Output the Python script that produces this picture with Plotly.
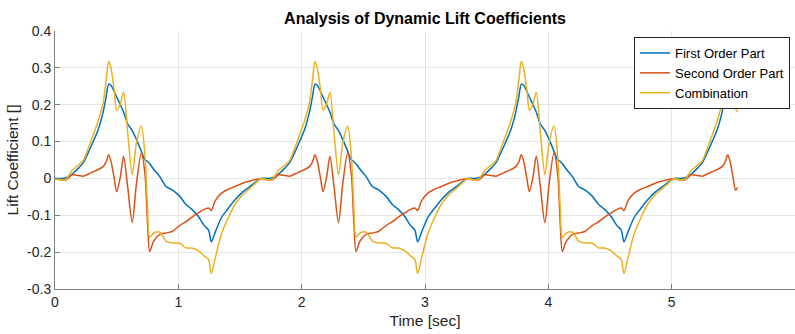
import plotly.graph_objects as go

# Time samples [sec]
time_sec = [
    0.0, 0.05, 0.09, 0.14, 0.19, 0.23, 0.27, 0.31, 0.35, 0.39, 0.415, 0.435, 0.455, 0.48, 0.5, 0.53, 0.556, 0.59, 0.626, 0.66, 0.7,
    0.73, 0.75, 0.768, 0.8, 0.85, 0.9, 0.95, 1.01, 1.06, 1.11, 1.16, 1.21, 1.245, 1.267, 1.3, 1.35, 1.4, 1.46, 1.52, 1.58, 1.63,
    1.673, 1.723, 1.763, 1.813, 1.863, 1.903, 1.943, 1.983, 2.023, 2.063, 2.088, 2.108, 2.128, 2.153, 2.173, 2.203, 2.229, 2.263, 2.299, 2.333, 2.373,
    2.403, 2.423, 2.441, 2.473, 2.523, 2.573, 2.623, 2.683, 2.733, 2.783, 2.833, 2.883, 2.918, 2.94, 2.973, 3.023, 3.073, 3.133, 3.193, 3.253, 3.303,
    3.346, 3.396, 3.436, 3.486, 3.536, 3.576, 3.616, 3.656, 3.696, 3.736, 3.761, 3.781, 3.801, 3.826, 3.846, 3.876, 3.902, 3.936, 3.972, 4.006, 4.046,
    4.076, 4.096, 4.114, 4.146, 4.196, 4.246, 4.296, 4.356, 4.406, 4.456, 4.506, 4.556, 4.591, 4.613, 4.646, 4.696, 4.746, 4.806, 4.866, 4.926, 4.976,
    5.019, 5.069, 5.109, 5.159, 5.209, 5.249, 5.289, 5.329, 5.369, 5.409, 5.434, 5.454, 5.474, 5.499, 5.519, 5.536,
]

first_order = [
    0.0, 0.0, 0.002, 0.012, 0.028, 0.043, 0.07, 0.1, 0.132, 0.18, 0.222, 0.256, 0.252, 0.236, 0.221, 0.2, 0.18, 0.147, 0.13, 0.106, 0.074,
    0.05, 0.046, 0.04, 0.025, 0.005, -0.022, -0.031, -0.048, -0.07, -0.084, -0.102, -0.128, -0.14, -0.172, -0.145, -0.106, -0.083, -0.058, -0.037, -0.022, -0.009,
    0.0, 0.0, 0.002, 0.012, 0.028, 0.043, 0.07, 0.1, 0.132, 0.18, 0.222, 0.256, 0.252, 0.236, 0.221, 0.2, 0.18, 0.147, 0.13, 0.106, 0.074,
    0.05, 0.046, 0.04, 0.025, 0.005, -0.022, -0.031, -0.048, -0.07, -0.084, -0.102, -0.128, -0.14, -0.172, -0.145, -0.106, -0.083, -0.058, -0.037, -0.022, -0.009,
    0.0, 0.0, 0.002, 0.012, 0.028, 0.043, 0.07, 0.1, 0.132, 0.18, 0.222, 0.256, 0.252, 0.236, 0.221, 0.2, 0.18, 0.147, 0.13, 0.106, 0.074,
    0.05, 0.046, 0.04, 0.025, 0.005, -0.022, -0.031, -0.048, -0.07, -0.084, -0.102, -0.128, -0.14, -0.172, -0.145, -0.106, -0.083, -0.058, -0.037, -0.022, -0.009,
    0.0, 0.0, 0.002, 0.012, 0.028, 0.043, 0.07, 0.1, 0.132, 0.18, 0.222, 0.256, 0.252, 0.236, 0.221, 0.204,
]

second_order = [
    0.0, -0.004, -0.004, 0.01, 0.008, 0.006, 0.012, 0.018, 0.024, 0.032, 0.045, 0.064, 0.045, 0.0, -0.036, 0.005, 0.06, -0.025, -0.12, -0.015, 0.07,
    0.01, -0.12, -0.198, -0.17, -0.152, -0.148, -0.144, -0.128, -0.118, -0.105, -0.094, -0.084, -0.08, -0.087, -0.06, -0.04, -0.03, -0.022, -0.013, -0.007, -0.003,
    0.0, -0.004, -0.004, 0.01, 0.008, 0.006, 0.012, 0.018, 0.024, 0.032, 0.045, 0.064, 0.045, 0.0, -0.036, 0.005, 0.06, -0.025, -0.12, -0.015, 0.07,
    0.01, -0.12, -0.198, -0.17, -0.152, -0.148, -0.144, -0.128, -0.118, -0.105, -0.094, -0.084, -0.08, -0.087, -0.06, -0.04, -0.03, -0.022, -0.013, -0.007, -0.003,
    0.0, -0.004, -0.004, 0.01, 0.008, 0.006, 0.012, 0.018, 0.024, 0.032, 0.045, 0.064, 0.045, 0.0, -0.036, 0.005, 0.06, -0.025, -0.12, -0.015, 0.07,
    0.01, -0.12, -0.198, -0.17, -0.152, -0.148, -0.144, -0.128, -0.118, -0.105, -0.094, -0.084, -0.08, -0.087, -0.06, -0.04, -0.03, -0.022, -0.013, -0.007, -0.003,
    0.0, -0.004, -0.004, 0.01, 0.008, 0.006, 0.012, 0.018, 0.024, 0.032, 0.045, 0.064, 0.045, 0.0, -0.032, -0.024,
]

combination = [
    0.0, -0.004, -0.002, 0.022, 0.036, 0.049, 0.082, 0.118, 0.156, 0.205, 0.267, 0.318, 0.297, 0.24, 0.185, 0.203, 0.234, 0.122, 0.01, 0.095, 0.142,
    0.06, -0.075, -0.16, -0.148, -0.146, -0.17, -0.175, -0.176, -0.188, -0.189, -0.196, -0.21, -0.22, -0.258, -0.215, -0.15, -0.11, -0.07, -0.045, -0.027, -0.012,
    0.0, -0.004, -0.002, 0.022, 0.036, 0.049, 0.082, 0.118, 0.156, 0.205, 0.267, 0.318, 0.297, 0.24, 0.185, 0.203, 0.234, 0.122, 0.01, 0.095, 0.142,
    0.06, -0.075, -0.16, -0.148, -0.146, -0.17, -0.175, -0.176, -0.188, -0.189, -0.196, -0.21, -0.22, -0.258, -0.215, -0.15, -0.11, -0.07, -0.045, -0.027, -0.012,
    0.0, -0.004, -0.002, 0.022, 0.036, 0.049, 0.082, 0.118, 0.156, 0.205, 0.267, 0.318, 0.297, 0.24, 0.185, 0.203, 0.234, 0.122, 0.01, 0.095, 0.142,
    0.06, -0.075, -0.16, -0.148, -0.146, -0.17, -0.175, -0.176, -0.188, -0.189, -0.196, -0.21, -0.22, -0.258, -0.215, -0.15, -0.11, -0.07, -0.045, -0.027, -0.012,
    0.0, -0.004, -0.002, 0.022, 0.036, 0.049, 0.082, 0.118, 0.156, 0.205, 0.267, 0.318, 0.297, 0.24, 0.189, 0.18,
]

x_ticks = [0, 1, 2, 3, 4, 5, 6]
y_ticks = [-0.3, -0.2, -0.1, 0, 0.1, 0.2, 0.3, 0.4]
y_tick_labels = ["-0.3", "-0.2", "-0.1", "0", "0.1", "0.2", "0.3", "0.4"]

FONT = "Liberation Sans, Arial, Helvetica, sans-serif"
AX = "#808080"
TXT = "#262626"

fig = go.Figure()
series = [
    ("First Order Part", first_order, "#0072BD"),
    ("Second Order Part", second_order, "#D95319"),
    ("Combination", combination, "#EDB120"),
]
for name, vals, col in series:
    fig.add_trace(go.Scatter(
        x=time_sec, y=vals, mode="lines", name=name,
        line=dict(color=col, width=1.5, shape="spline", smoothing=0.8),
    ))

fig.update_layout(
    width=795, height=334,
    margin=dict(l=55, r=0, t=31, b=45),
    paper_bgcolor="white", plot_bgcolor="white",
    font=dict(family=FONT, size=14, color=TXT),
    title=dict(text="<b>Analysis of Dynamic Lift Coefficients</b>", x=0.5, xref="paper",
               xanchor="center", y=1 - 18 / 334, yanchor="middle",
               font=dict(size=16, color="#000000")),
    xaxis=dict(range=[0, 6], tickvals=x_ticks, ticks="inside", ticklen=5, tickcolor=AX,
               tickfont=dict(size=14), showline=True, linecolor=AX, linewidth=1,
               showgrid=True, gridcolor="#e6e6e6", zeroline=False,
               title=dict(text="Time [sec]", standoff=6, font=dict(size=15.5))),
    yaxis=dict(range=[-0.3, 0.4], tickvals=y_ticks, ticktext=y_tick_labels, ticks="inside",
               ticklen=5, tickcolor=AX, tickfont=dict(size=14), showline=True, linecolor=AX,
               linewidth=1, showgrid=True, gridcolor="#e6e6e6", zeroline=False,
               title=dict(text="Lift Coefficient []", standoff=4, font=dict(size=15.5))),
    xaxis2=dict(range=[0, 6], overlaying="x", side="top", tickvals=x_ticks, ticks="inside",
                ticklen=5, tickcolor=AX, showticklabels=False, showline=False, showgrid=False,
                zeroline=False),
    legend=dict(x=(634 - 55) / 740, y=(289 - 37) / 258, xanchor="left", yanchor="top",
                bgcolor="white", bordercolor=TXT, borderwidth=1,
                font=dict(size=13, color="#000000"), tracegroupgap=0,
                itemwidth=30),
    showlegend=True,
)

fig.write_html("out.html")
